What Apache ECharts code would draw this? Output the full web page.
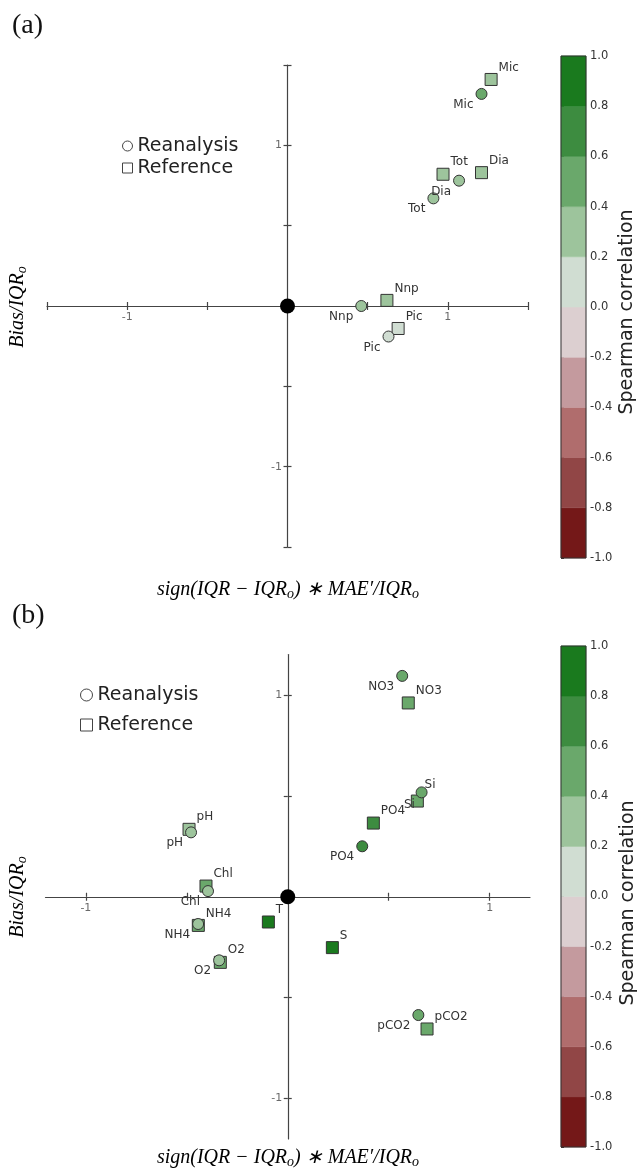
<!DOCTYPE html>
<html><head><meta charset="utf-8">
<script src="https://cdn.jsdelivr.net/npm/echarts@6/dist/echarts.min.js"></script>
<style>html,body{margin:0;padding:0;background:#fff}#c{width:640px;height:1173px}</style>
</head><body><div id="c"></div><script>
// ---------- data ----------
// colour bar (Spearman correlation)
const CB_EDGES = [-1, -0.8, -0.6, -0.4, -0.2, 0, 0.2, 0.4, 0.6, 0.8, 1];
const CB_COLORS = ['#741818', '#914646', '#b06d6d', '#c49a9e', '#dccfd0',
                   '#d0ddd2', '#9dc49c', '#6aa86b', '#3d8c40', '#1a7a1e'];
// panel (a)
const namesA = ['Mic', 'Dia', 'Tot', 'Nnp', 'Pic'];
const reaAx = [1.21, 1.07, 0.91, 0.46, 0.63];
const reaAy = [1.32, 0.78, 0.67, 0.00, -0.19];
const reaAr = [0.50, 0.35, 0.35, 0.30, 0.10];
const refAx = [1.27, 1.21, 0.97, 0.62, 0.69];
const refAy = [1.41, 0.83, 0.82, 0.035, -0.14];
const refAr = [0.38, 0.30, 0.30, 0.35, 0.10];
// panel (b)
const namesB = ['NO3', 'Si', 'PO4', 'pCO2', 'pH', 'Chl', 'NH4', 'O2', 'T', 'S'];
const reaBx = [0.567, 0.663, 0.369, 0.647, -0.479, -0.395, -0.444, -0.340, null, null];
const reaBy = [1.094, 0.517, 0.250, -0.586, 0.319, 0.028, -0.135, -0.315, null, null];
const reaBr = [0.50, 0.50, 0.70, 0.50, 0.30, 0.30, 0.30, 0.35, null, null];
const refBx = [0.597, 0.642, 0.424, 0.690, -0.489, -0.405, -0.443, -0.334, -0.096, 0.221];
const refBy = [0.960, 0.474, 0.365, -0.655, 0.334, 0.053, -0.142, -0.325, -0.125, -0.252];
const refBr = [0.50, 0.45, 0.70, 0.45, 0.30, 0.50, 0.45, 0.50, 0.90, 0.90];
const originPt = [0, 0];
// axis ticks / labels
const ticksA = [-1.5, -1, -0.5, 0, 0.5, 1, 1.5];
const ticksB = [-1, -0.5, 0, 0.5, 1];
const tickLabels = [-1, 1];

// ---------- helpers ----------
const SANS = 'DejaVu Sans';
const SERIF = 'Liberation Serif';
const SWAP = new Set(['Si']);   // labels placed on the other side

function rows(names, xs, ys, rs) {
  const out = [];
  names.forEach((n, i) => { if (xs[i] != null) out.push([xs[i], ys[i], rs[i], n]); });
  return out;
}
const lblSq = {show: true, position: 'right', distance: 1, offset: [0, -12]};
const lblCi = {show: true, position: 'left', distance: 2, offset: [0, 11]};
function withLabels(arr, kind) {
  return arr.map(d => {
    let l = kind === 'sq' ? lblSq : lblCi;
    if (SWAP.has(d[3])) {
      l = kind === 'sq' ? {show: true, position: 'left', distance: -4, offset: [0, 4]}
                        : {show: true, position: 'right', distance: -3, offset: [0, -8]};
    }
    return {value: d, label: l};
  });
}
const labelText = {formatter: p => p.value[3], fontFamily: SANS, fontSize: 12, color: '#333'};

function mainAxes(gi, min, max, ticks, otherIdx, dim) {
  const common = {type: 'value', gridIndex: gi, min: min, max: max, splitLine: {show: false}, axisLabel: {show: false}};
  const main = Object.assign({}, common, {
    position: dim === 'x' ? 'bottom' : 'left',
    axisLine: {show: true, onZero: true, onZeroAxisIndex: otherIdx, lineStyle: {color: '#444', width: 1.2}},
    axisTick: {show: true, length: 4, customValues: ticks, lineStyle: {color: '#444', width: 1.2}}
  });
  const inner = Object.assign({}, common, {
    position: dim === 'x' ? 'top' : 'right',
    axisLine: {show: false, onZero: true, onZeroAxisIndex: otherIdx},
    axisTick: {show: true, length: 4, customValues: ticks, lineStyle: {color: '#444', width: 1.2}}
  });
  return [main, inner];
}
// tick labels drawn at the spine positions (axes cross at the origin)
function tickLabelSeries(xi, yi) {
  const lab = {show: true, formatter: p => String(p.value[2]), fontFamily: SANS, fontSize: 11, color: '#444'};
  return [
    {type: 'scatter', xAxisIndex: xi, yAxisIndex: yi, symbolSize: 1, itemStyle: {color: 'rgba(0,0,0,0)'}, silent: true,
     label: Object.assign({position: 'bottom', distance: 5}, lab), data: tickLabels.map(v => [v, 0, v])},
    {type: 'scatter', xAxisIndex: xi, yAxisIndex: yi, symbolSize: 1, itemStyle: {color: 'rgba(0,0,0,0)'}, silent: true,
     label: Object.assign({position: 'left', distance: 5}, lab), data: tickLabels.map(v => [0, v, v])}
  ];
}

const cbData = CB_EDGES.slice(0, -1).map((lo, i) => [lo, CB_EDGES[i + 1], i]);
function cbRender(params, api) {
  const lo = api.value(0), hi = api.value(1), i = api.value(2);
  const p0 = api.coord([0, hi]), p1 = api.coord([1, lo]);
  return {type: 'rect', shape: {x: p0[0], y: p0[1], width: p1[0] - p0[0], height: p1[1] - p0[1]},
          style: {fill: CB_COLORS[i], stroke: CB_COLORS[i], lineWidth: 0.5}};
}
function cbY(gi) {
  return {type: 'value', gridIndex: gi, min: -1, max: 1, interval: 0.2, position: 'right',
          splitLine: {show: false}, axisLine: {show: false},
          axisTick: {show: true, length: 3, lineStyle: {color: '#333'}},
          axisLabel: {fontFamily: SANS, fontSize: 11.5, color: '#333', margin: 4,
                      formatter: v => (Math.abs(v) < 1e-9 ? 0 : v).toFixed(1)}};
}
function cbX(gi) { return {type: 'value', gridIndex: gi, min: 0, max: 1, show: false}; }

const pieces = CB_EDGES.slice(0, -1).map((lo, i) => (
  i === CB_EDGES.length - 2 ? {gte: lo, lte: CB_EDGES[i + 1], color: CB_COLORS[i]}
                            : {gte: lo, lt: CB_EDGES[i + 1], color: CB_COLORS[i]}));

const sqStyle = {borderColor: '#333', borderWidth: 1, opacity: 1};
const richMath = {
  i: {fontFamily: SERIF, fontStyle: 'italic', fontSize: 20, color: '#222'},
  s: {fontFamily: SERIF, fontStyle: 'italic', fontSize: 14, color: '#222', padding: [8, 0, 0, 0]}
};
const xTitle = '{i|sign(IQR − IQR}{s|o}{i|) ∗ MAE′/IQR}{s|o}';
const yTitle = '{i|Bias/IQR}{s|o}';

const axA = mainAxes(0, -1.5, 1.5, ticksA, 0, 'x');
const ayA = mainAxes(0, -1.5, 1.5, ticksA, 0, 'y');
const axB = mainAxes(1, -1.2, 1.2, ticksB, 2, 'x');
const ayB = mainAxes(1, -1.2, 1.2, ticksB, 2, 'y');

const legendData = [
  {name: 'Reanalysis', icon: 'circle', itemStyle: {color: '#fff', borderColor: '#444', borderWidth: 1}},
  {name: 'Reference', icon: 'rect', itemStyle: {color: '#fff', borderColor: '#444', borderWidth: 1}}
];

const option = {
  animation: false,
  backgroundColor: '#fff',
  grid: [
    {left: 47, top: 65, width: 481, height: 482},
    {left: 45.5, top: 654.5, width: 484.5, height: 484.5},
    {left: 561, top: 56, width: 25, height: 502, show: true, z: 5, backgroundColor: 'transparent', borderColor: '#333', borderWidth: 1},
    {left: 561, top: 646, width: 25, height: 501, show: true, z: 5, backgroundColor: 'transparent', borderColor: '#333', borderWidth: 1}
  ],
  xAxis: [axA[0], axA[1], axB[0], axB[1], cbX(2), cbX(3)],
  yAxis: [ayA[0], ayA[1], ayB[0], ayB[1], cbY(2), cbY(3)],
  visualMap: {type: 'piecewise', show: false, dimension: 2, seriesIndex: [0, 1, 3, 4], pieces: pieces},
  legend: [
    {left: 122, top: 136.5, padding: 0, orient: 'vertical', itemGap: 3, itemWidth: 10, itemHeight: 10, selectedMode: false,
     textStyle: {fontFamily: SANS, fontSize: 19, color: '#222'}, data: legendData},
    {left: 80, top: 685.5, padding: 0, orient: 'vertical', itemGap: 11, itemWidth: 12, itemHeight: 12, selectedMode: false,
     textStyle: {fontFamily: SANS, fontSize: 19, color: '#222'}, data: legendData}
  ],
  series: [
    {name: 'Reference', type: 'scatter', xAxisIndex: 0, yAxisIndex: 0, symbol: 'rect', symbolSize: 12,
     itemStyle: sqStyle, label: labelText, data: withLabels(rows(namesA, refAx, refAy, refAr), 'sq'), z: 3},
    {name: 'Reanalysis', type: 'scatter', xAxisIndex: 0, yAxisIndex: 0, symbol: 'circle', symbolSize: 11,
     itemStyle: sqStyle, label: labelText, data: withLabels(rows(namesA, reaAx, reaAy, reaAr), 'ci'), z: 4},
    {type: 'scatter', xAxisIndex: 0, yAxisIndex: 0, symbolSize: 15, itemStyle: {color: '#000', opacity: 1}, data: [originPt], z: 5, silent: true},
    {name: 'Reference', type: 'scatter', xAxisIndex: 2, yAxisIndex: 2, symbol: 'rect', symbolSize: 12,
     itemStyle: sqStyle, label: labelText, data: withLabels(rows(namesB, refBx, refBy, refBr), 'sq'), z: 3},
    {name: 'Reanalysis', type: 'scatter', xAxisIndex: 2, yAxisIndex: 2, symbol: 'circle', symbolSize: 11,
     itemStyle: sqStyle, label: labelText, data: withLabels(rows(namesB, reaBx, reaBy, reaBr), 'ci'), z: 4},
    {type: 'scatter', xAxisIndex: 2, yAxisIndex: 2, symbolSize: 15, itemStyle: {color: '#000', opacity: 1}, data: [originPt], z: 5, silent: true},
    {type: 'custom', xAxisIndex: 4, yAxisIndex: 4, renderItem: cbRender, data: cbData, silent: true},
    {type: 'custom', xAxisIndex: 5, yAxisIndex: 5, renderItem: cbRender, data: cbData, silent: true}
  ].concat(tickLabelSeries(0, 0), tickLabelSeries(2, 2)),
  graphic: [
    {type: 'text', left: 12, top: 12, style: {text: '(a)', font: '28px "Liberation Serif"', fill: '#111'}},
    {type: 'text', left: 12, top: 602, style: {text: '(b)', font: '28px "Liberation Serif"', fill: '#111'}},
    {type: 'text', x: 288, y: 590, style: {text: xTitle, rich: richMath, align: 'center', verticalAlign: 'middle'}},
    {type: 'text', x: 288, y: 1158, style: {text: xTitle, rich: richMath, align: 'center', verticalAlign: 'middle'}},
    {type: 'text', x: 18, y: 307, rotation: Math.PI / 2, style: {text: yTitle, rich: richMath, align: 'center', verticalAlign: 'middle'}},
    {type: 'text', x: 18, y: 897, rotation: Math.PI / 2, style: {text: yTitle, rich: richMath, align: 'center', verticalAlign: 'middle'}},
    {type: 'text', x: 627, y: 312, rotation: Math.PI / 2, style: {text: 'Spearman correlation', font: '19px "DejaVu Sans"', fill: '#222', align: 'center', verticalAlign: 'middle'}},
    {type: 'text', x: 628, y: 903, rotation: Math.PI / 2, style: {text: 'Spearman correlation', font: '19px "DejaVu Sans"', fill: '#222', align: 'center', verticalAlign: 'middle'}}
  ]
};
const chart = echarts.init(document.getElementById('c'), null, {renderer: 'canvas'});
chart.setOption(option);
</script></body></html>
